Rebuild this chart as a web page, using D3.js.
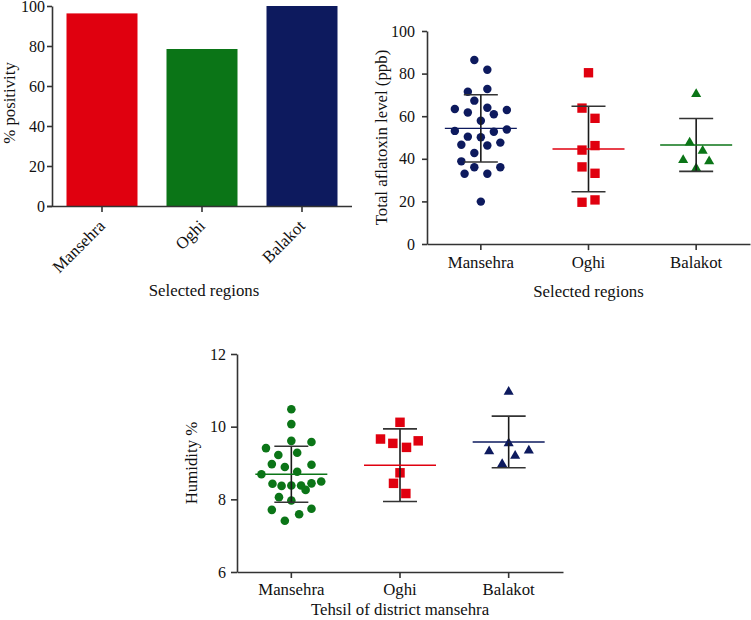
<!DOCTYPE html>
<html>
<head>
<meta charset="utf-8">
<script src="https://cdn.jsdelivr.net/npm/d3@7"></script>
<style>
  html, body { margin: 0; padding: 0; background: #fff; }
  svg { display: block; }
  text { font-family: "Liberation Serif", "Times New Roman", serif; fill: #111; }
</style>
</head>
<body>
<svg id="chart" width="751" height="620"></svg>
<script>
// ---------- DATA ----------
const categories = ["Mansehra", "Oghi", "Balakot"];

// Panel A: % positivity
const positivity = [96.3, 78.5, 100];
const positivityTicks = [0, 20, 40, 60, 80, 100];

// Panel B: total aflatoxin level (ppb)
const aflaMansehra = [86.4, 81.8, 72.8, 71.5, 67.3, 64.0, 63.4, 62.9, 61.7, 60.9, 57.9, 53.8, 53.1, 52.7, 50.4, 50.1, 47.6, 46.6, 46.2, 42.7, 38.8, 36.0, 36.0, 33.0, 33.0, 19.9];
const aflaMansehraSlot = [-1, 1, 1, -2, -1, 1, -4, 4, -2, 2, 0, 4, -4, 2, -2, 0, 3, -3, 1, -1, -3, -1, 3, -2.5, 1, 0];
const aflaOghi = [80.4, 63.8, 59.0, 46.2, 44.1, 36.2, 33.2, 20.7, 19.6];
const aflaOghiSlot = [0, -1, 1, 1, -1, -1, 1, 1, -1];
const aflaBalakot = [70.4, 47.6, 43.7, 39.4, 38.8, 35.5];
const aflaBalakotSlot = [0, -1, 1, -2, 2, 0];
const aflaMean = [54.3, 44.6, 46.5];
const aflaSD = [15.8, 20.1, 12.4];
const aflaTicks = [0, 20, 40, 60, 80, 100];

// Panel C: humidity %
const humMansehra = [10.48, 10.07, 9.61, 9.58, 9.41, 9.28, 9.22, 8.97, 8.95, 8.89, 8.76, 8.69, 8.43, 8.37, 8.38, 8.38, 8.26, 8.44, 8.49, 8.06, 7.97, 7.71, 7.74, 7.59, 7.41];
const humMansehraSlot = [0, 0, 0, 3.1, -3.9, 0.9, -2, -3, 3.1, -1, 0.9, -4.6, -2.9, -1.5, 0, 1.5, 2.2, 3.1, 4.6, -1.9, 0, -3, 3.1, 1.2, -1];
const humOghi = [10.12, 9.66, 9.61, 9.54, 9.43, 8.73, 8.44, 8.16];
const humOghiSlot = [0, -3, 2.8, -1.1, 1, 0, -1, 0.9];
const humBalakot = [10.96, 9.54, 9.34, 9.32, 9.20, 8.97];
const humBalakotSlot = [0, 0, 3.1, -3, 1, -1];
const humMean = [8.69, 8.94, 9.58];
const humSD = [0.77, 1.0, 0.71];
const humTicks = [6, 8, 10, 12];

// ---------- STYLE ----------
const RED = "#e0000f", GREEN = "#0b7517", NAVY = "#0d1a5e";
const AXIS = "#333";
const FONT = 16;      // tick numbers
const LFONT = 16.8;   // category labels and titles

const svg = d3.select("#chart");

function styleAxis(g, size) {
  g.selectAll("path.domain").attr("stroke", AXIS).attr("stroke-width", 1.6);
  g.selectAll(".tick line").attr("stroke", AXIS).attr("stroke-width", 1.6);
  g.selectAll("text").attr("font-size", size).attr("fill", "#111")
    .attr("font-family", '"Liberation Serif", "Times New Roman", serif');
}

// ---------- PANEL A ----------
{
  const x = d3.scaleBand().domain(categories).range([52, 352]).paddingInner(0.29).paddingOuter(0.145);
  const y = d3.scaleLinear().domain([0, 100]).range([206, 6]);
  const colors = [RED, GREEN, NAVY];
  svg.append("g").selectAll("rect").data(categories).join("rect")
    .attr("x", d => x(d)).attr("width", x.bandwidth())
    .attr("y", (d, i) => y(positivity[i]))
    .attr("height", (d, i) => y(0) - y(positivity[i]))
    .attr("fill", (d, i) => colors[i]);
  const gy = svg.append("g").attr("transform", "translate(52,0)")
    .call(d3.axisLeft(y).tickValues(positivityTicks).tickFormat(d3.format("d")).tickSize(5).tickPadding(2).tickSizeOuter(0));
  styleAxis(gy, FONT);
  const gx = svg.append("g").attr("transform", "translate(0,206)")
    .call(d3.axisBottom(x).tickSize(6).tickSizeOuter(0));
  gx.select("path.domain").attr("d", "M47,0.5H352");
  styleAxis(gx, LFONT);
  gx.selectAll(".tick text")
    .attr("x", 0).attr("y", 0).attr("dy", null)
    .attr("text-anchor", "end")
    .attr("transform", "translate(4,21) rotate(-45)");
  svg.append("text").attr("x", 204).attr("y", 296).attr("text-anchor", "middle")
    .attr("font-size", LFONT).text("Selected regions");
  svg.append("text").attr("transform", "translate(15,103) rotate(-90)").attr("text-anchor", "middle")
    .attr("font-size", LFONT).text("% positivity");
}

// ---------- dot plot helper ----------
function dotPanel(opts) {
  const x = d3.scaleBand().domain(categories).range(opts.xRange);
  const y = d3.scaleLinear().domain(opts.yDomain).range(opts.yRange);
  const slot = d3.scaleLinear().domain([-1, 1]).range([-6.5, 6.5]);
  const cx = c => x(c) + x.bandwidth() / 2;

  opts.groups.forEach((grp, gi) => {
    const c = categories[gi];
    const g = svg.append("g");
    const sym = d3.symbol().type(grp.shape).size(grp.size);
    g.selectAll("path.pt").data(grp.values).join("path").attr("class", "pt")
      .attr("transform", (d, i) => `translate(${cx(c) + slot(grp.slots[i])},${y(d)})`)
      .attr("d", sym()).attr("fill", grp.color);
    const m = opts.mean[gi], s = opts.sd[gi];
    // error bar
    g.append("line").attr("x1", cx(c)).attr("x2", cx(c)).attr("y1", y(m + s)).attr("y2", y(m - s))
      .attr("stroke", "#1a1a1a").attr("stroke-width", 1.6);
    [m + s, m - s].forEach(v => {
      g.append("line").attr("x1", cx(c) - 17).attr("x2", cx(c) + 17).attr("y1", y(v)).attr("y2", y(v))
        .attr("stroke", "#333").attr("stroke-width", 1.6);
    });
    g.append("line").attr("x1", cx(c) - 36).attr("x2", cx(c) + 36).attr("y1", y(m)).attr("y2", y(m))
      .attr("stroke", grp.color).attr("stroke-width", 1.4);
  });

  const gy = svg.append("g").attr("transform", `translate(${opts.xRange[0]},0)`)
    .call(d3.axisLeft(y).tickValues(opts.ticks).tickFormat(d3.format("d")).tickSize(opts.yTick).tickPadding(opts.yPad).tickSizeOuter(0));
  styleAxis(gy, FONT);
  const gx = svg.append("g").attr("transform", `translate(0,${opts.yRange[0]})`)
    .call(d3.axisBottom(x).tickSize(6).tickPadding(opts.xPad).tickSizeOuter(0));
  styleAxis(gx, LFONT);
  svg.append("text").attr("x", (opts.xRange[0] + opts.xRange[1]) / 2).attr("y", opts.xTitleY)
    .attr("text-anchor", "middle").attr("font-size", LFONT).text(opts.xTitle);
  svg.append("text")
    .attr("transform", `translate(${opts.yTitleX},${(opts.yRange[0] + opts.yRange[1]) / 2}) rotate(-90)`)
    .attr("text-anchor", "middle").attr("font-size", LFONT).text(opts.yTitle);
}

// ---------- PANEL B ----------
dotPanel({
  xRange: [427, 750], yDomain: [0, 100], yRange: [244, 31],
  ticks: aflaTicks, yTick: 5, yPad: 7, xPad: 6.5,
  mean: aflaMean, sd: aflaSD,
  xTitle: "Selected regions", xTitleY: 297, yTitle: "Total aflatoxin level (ppb)", yTitleX: 387,
  groups: [
    { values: aflaMansehra, slots: aflaMansehraSlot, shape: d3.symbolCircle, size: 56, color: NAVY },
    { values: aflaOghi, slots: aflaOghiSlot, shape: d3.symbolSquare, size: 88, color: RED },
    { values: aflaBalakot, slots: aflaBalakotSlot, shape: d3.symbolTriangle, size: 44, color: GREEN }
  ]
});

// ---------- PANEL C ----------
dotPanel({
  xRange: [237, 563], yDomain: [6, 12], yRange: [572, 354],
  ticks: humTicks, yTick: 6, yPad: 5, xPad: 5,
  mean: humMean, sd: humSD,
  xTitle: "Tehsil of district mansehra", xTitleY: 615, yTitle: "Humidity %", yTitleX: 197,
  groups: [
    { values: humMansehra, slots: humMansehraSlot, shape: d3.symbolCircle, size: 58, color: GREEN },
    { values: humOghi, slots: humOghiSlot, shape: d3.symbolSquare, size: 90, color: RED },
    { values: humBalakot, slots: humBalakotSlot, shape: d3.symbolTriangle, size: 44, color: NAVY }
  ]
});
</script>
</body>
</html>
